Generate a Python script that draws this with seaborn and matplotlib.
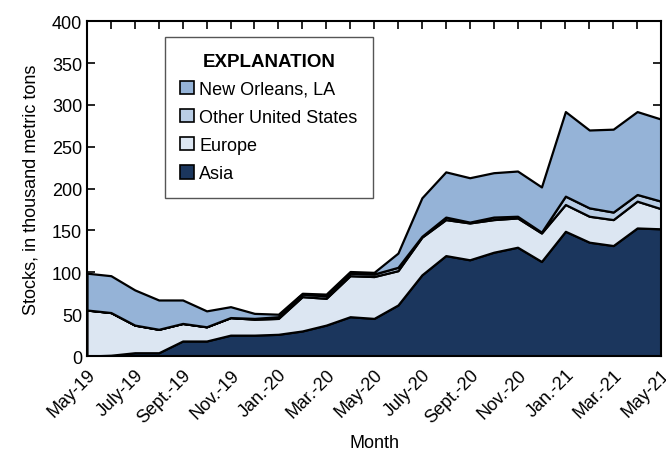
import matplotlib
matplotlib.use("Agg")
import matplotlib.pyplot as plt
from matplotlib.patches import Patch
from matplotlib.ticker import MultipleLocator
import pandas as pd
import seaborn as sns

# monthly values, thousand metric tons (May-19 .. May-21)
months = pd.date_range("2019-05-01", "2021-05-01", freq="MS")
asia = [0, 1, 4, 4, 18, 18, 25, 25, 26, 30, 37, 47, 45,
        61, 97, 120, 115, 124, 130, 113, 149, 136, 132, 153, 152]
europe = [55, 51, 33, 28, 21, 17, 21, 19, 19, 41, 32, 49, 50,
          41, 45, 43, 44, 39, 35, 34, 32, 31, 31, 32, 24]
other_us = [0, 0, 0, 0, 0, 0, 0, 1, 2, 3, 3, 3, 3,
            4, 1, 3, 1, 3, 2, 1, 10, 10, 9, 8, 9]
new_orleans = [44, 44, 42, 35, 28, 19, 13, 6, 3, 1, 2, 2, 2,
               17, 46, 54, 53, 53, 54, 54, 101, 93, 99, 99, 98]

tick_labels = ["May-19", "July-19", "Sept.-19", "Nov.-19", "Jan.-20", "Mar.-20",
               "May-20", "July-20", "Sept.-20", "Nov.-20", "Jan.-21", "Mar.-21",
               "May-21"]

series = ["Asia", "Europe", "Other United States", "New Orleans, LA"]
colors = {"Asia": "#1b365d", "Europe": "#dce6f2",
          "Other United States": "#b9cde5", "New Orleans, LA": "#95b3d7"}

df = pd.DataFrame({"Asia": asia, "Europe": europe,
                   "Other United States": other_us,
                   "New Orleans, LA": new_orleans}, index=months)

sns.set_theme(style="ticks")
plt.rcParams["font.family"] = ["Liberation Sans", "DejaVu Sans"]
plt.rcParams["font.size"] = 12
for k in ["text.color", "axes.labelcolor", "xtick.color", "ytick.color"]:
    plt.rcParams[k] = "black"

fig = plt.figure(figsize=(6.66, 4.52), dpi=100)
ax = fig.add_axes([0.1306, 0.210, 0.862, 0.741])

x = range(len(df))
ax.stackplot(x, [df[s] for s in series], colors=[colors[s] for s in series],
             edgecolor="black", linewidth=1.6)

ax.set_xlim(0, len(df) - 1)
ax.set_ylim(0, 400)
ax.yaxis.set_major_locator(MultipleLocator(50))
ax.set_xticks(list(x), minor=True)
ax.set_xticks(list(x)[::2])
ax.set_xticklabels(tick_labels, rotation=45, ha="right", rotation_mode="anchor")
ax.tick_params(which="both", direction="in", top=True, right=True,
               length=6, width=1.2, color="black", labelsize=13)
ax.tick_params(axis="x", pad=7)
for sp in ax.spines.values():
    sp.set_color("black")
    sp.set_linewidth(1.5)

ax.set_xlabel("Month", fontsize=13, labelpad=6)
ax.set_ylabel("Stocks, in thousand metric tons", fontsize=13, labelpad=9)

handles = [Patch(facecolor=colors[s], edgecolor="black", linewidth=1.2, label=s)
           for s in reversed(series)]
leg = ax.legend(handles=handles, title="EXPLANATION", loc="upper left",
                bbox_to_anchor=(0.136, 0.952), borderaxespad=0,
                frameon=True, fancybox=False,
                edgecolor="#555555", framealpha=1, fontsize=13,
                title_fontproperties={"weight": "bold", "size": 13.5},
                handlelength=0.75, handleheight=0.75, handletextpad=0.3,
                labelspacing=0.62, borderpad=0.85)
leg.get_frame().set_linewidth(1.0)

fig.savefig("out.png", dpi=100)
